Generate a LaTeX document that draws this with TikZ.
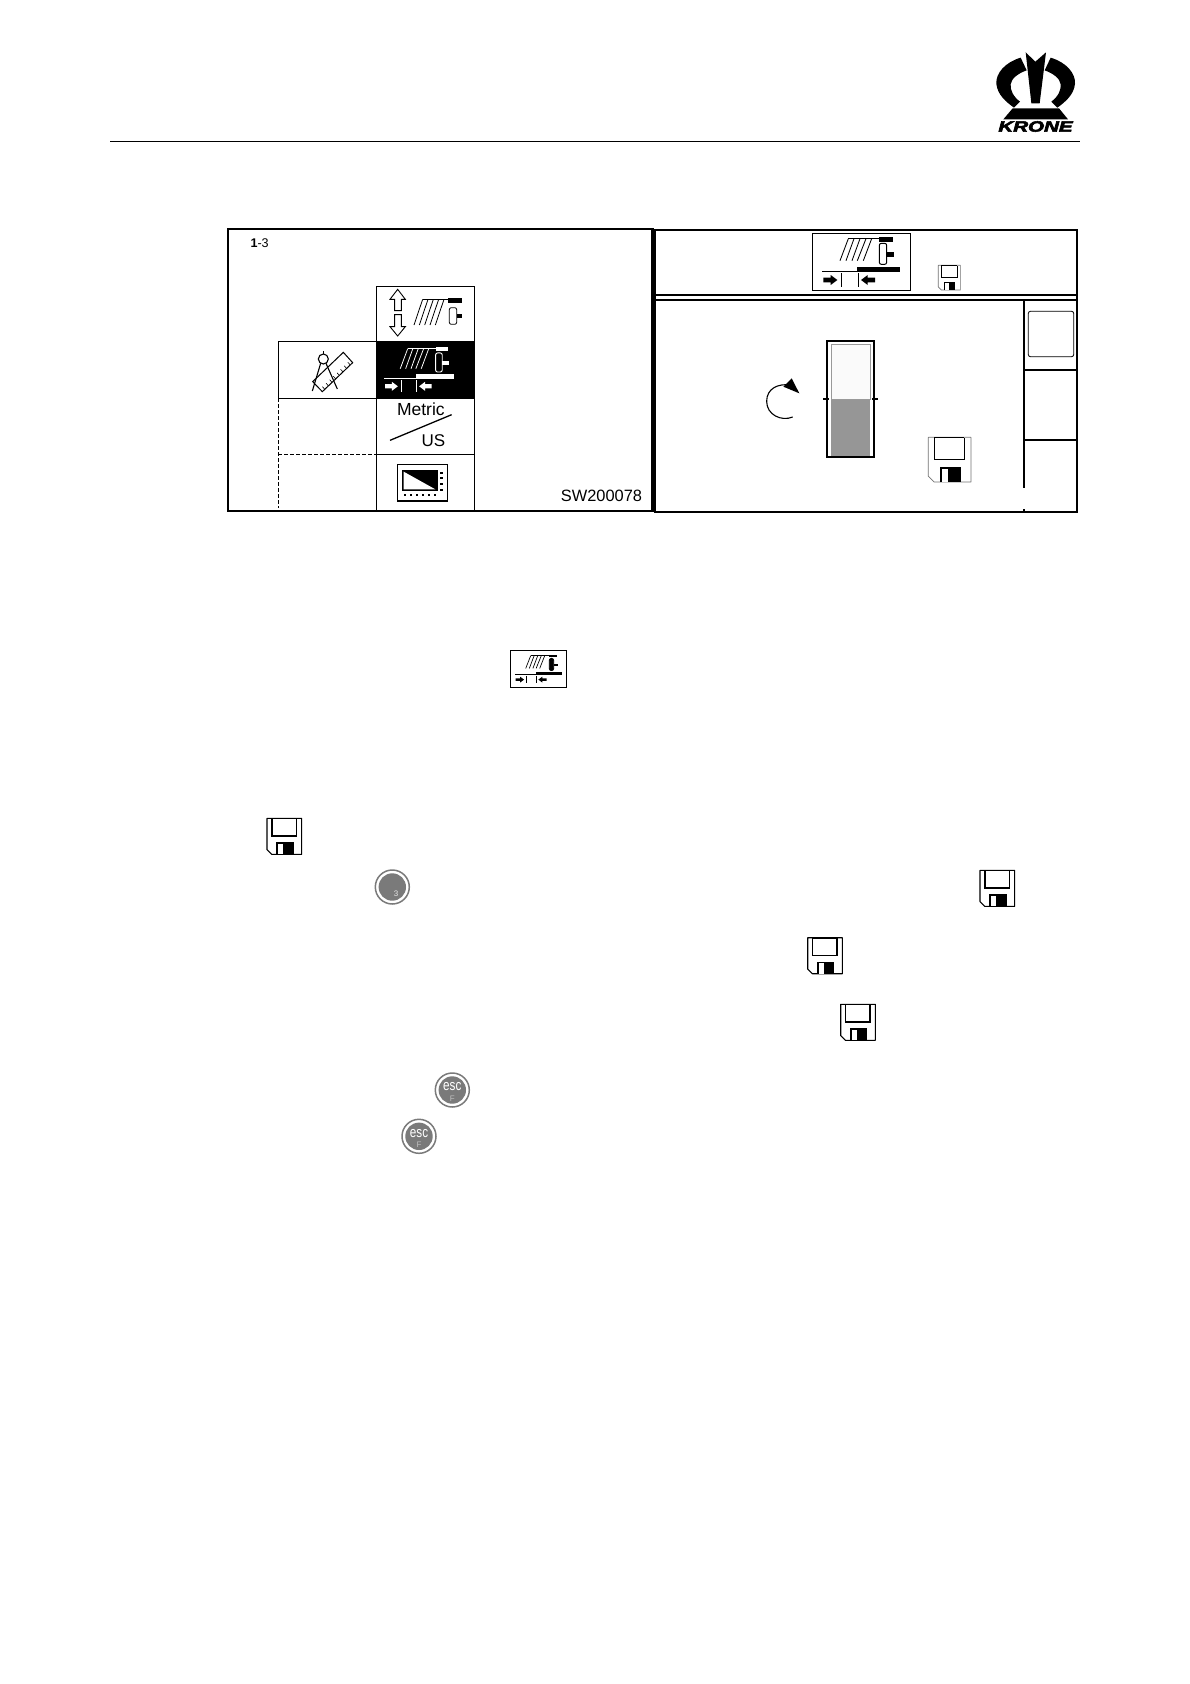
\documentclass[tikz,border=0pt]{standalone}
\usepackage{fontspec}
\usepackage{graphicx}
\usetikzlibrary{calc}
\setmainfont{Liberation Sans}
\newfontfamily\kronefont[BoldItalicFeatures={FakeBold=3.5}]{Liberation Sans}
\definecolor{panelgrey}{HTML}{969696}
\definecolor{btn}{HTML}{7A7A7A}
\tikzset{
  zoomone/.style={shift={(200,210)},scale=1/3},
  zoomtwo/.style={shift={(650,210)},scale=1/3},
  frameline/.style={draw=black,line width=1.9pt},
  gridline/.style={draw=black,line width=1.1pt},
  dashline/.style={draw=black,line width=0.9pt,dash pattern=on 3.5pt off 2.5pt},
  txt/.style={inner sep=0pt,outer sep=0pt,text=black},
}
% icon: #1 X, #2 Y, #3 x scale, #4 y scale, #5 colour, #6 roller fill, #7 thin line width
\newcommand{\sharpicon}[7]{%
\begin{scope}[shift={(#1,#2)},xscale=#3,yscale=#4]
  \draw[#5,line width=#7] (108,16) -- (203,16);
  \fill[#5] (201,12) rectangle (241,25);
  \foreach \a/\b in {108/83,125/101,143/119,161/135,178/153}
    \draw[#5,line width=#7*0.85] (\a,16) -- (\b,82);
  \draw[#5,fill=#6,line width=#7,rounded corners=2pt] (201,30) rectangle (223,93);
  \fill[#5] (223,57) rectangle (245,70);
  \fill[#5] (135,100) rectangle (263,112);
  \draw[#5,line width=#7] (29,115) -- (263,115);
  \fill[#5] (33,133) -- (55,133) -- (55,125) -- (75,140) -- (55,155) -- (55,147) -- (33,147) -- cycle;
  \fill[#5] (188,133) -- (166,133) -- (166,125) -- (146,140) -- (166,155) -- (166,147) -- (188,147) -- cycle;
  \draw[#5,line width=#7] (86,120) -- (86,160);
  \draw[#5,line width=#7] (138,120) -- (138,160);
\end{scope}}
% floppy: #1 X, #2 Y, #3 width px, #4 height px, #5 outline colour, #6 outline width
\newcommand{\floppy}[6]{%
\begin{scope}[shift={(#1,#2)},xscale=#3/105,yscale=#4/108]
  \draw[#5,line width=#6,fill=white,line join=round] (0,0) -- (104,0) -- (104,108) -- (14,108) -- (0,94) -- cycle;
  \draw[black,line width=#6] (15,1) -- (15,53) -- (88,53) -- (88,1);
  \draw[black,line width=#6*0.8] (15,1) -- (88,1);
  \fill[black] (28,72) rectangle (80,108);
  \fill[white] (33,77) rectangle (48,108);
\end{scope}}
\newcommand{\escbutton}[3]{%
  \draw[btn,line width=1.5pt,fill=white] (#1,#2) circle (17);
  \fill[btn] (#1,#2) circle (13.7);
  \node[txt,text=white,font=\fontsize{15}{15}\selectfont] (#3a) at (#1,#2-3) {\scalebox{0.78}[1]{esc}};
  \node[txt,text=white!75!black,font=\fontsize{8}{8}\selectfont] (#3b) at (#1,#2+8.5) {F};}
\begin{document}
\begin{tikzpicture}[x=1pt,y=-1pt]
\useasboundingbox (0,0) rectangle (1190,1684);
\fill[white] (0,0) rectangle (1190,1684);

% logo
\begin{scope}[shift={(990,45)},scale=1/3]
  \fill (107,22) -- (136,50) -- (168,22) -- (149,175) -- (124,175) -- cycle;
  \fill (92,38) .. controls (45,52) and (17,85) .. (19,116) .. controls (22,150) and (50,172) .. (72,188)
     -- (90,170) .. controls (70,155) and (60,135) .. (62,118) .. controls (64,100) and (85,85) .. (110,76) -- cycle;
  \fill (182,38) .. controls (229,52) and (257,85) .. (255,116) .. controls (252,150) and (224,172) .. (202,188)
     -- (184,170) .. controls (204,155) and (214,135) .. (212,118) .. controls (210,100) and (189,85) .. (164,76) -- cycle;
  \fill (68,190) -- (207,190) -- (234,223) -- (40,223) -- cycle;
\end{scope}
\node[txt,font=\kronefont\fontsize{15}{15}\selectfont\bfseries\itshape] (kronetext) at (1035.5,126.5) {\scalebox{1.37}[1]{KRONE}};
\coordinate (rulea) at (110,141);
\coordinate (ruleb) at (1080,141);
\draw[black,line width=0.9pt] (rulea) -- (ruleb);

% left panel
\begin{scope}[zoomone]
  \draw[frameline] (83,57) rectangle (1358,904);
  \draw[gridline] (529,229) -- (823,229) -- (823,904);
  \draw[gridline] (529,229) -- (529,904);
  \draw[gridline] (235,394) -- (823,394);
  \draw[gridline] (235,565) -- (823,565);
  \draw[gridline] (235,394) -- (235,565);
  \draw[gridline] (529,733) -- (823,733);
  \draw[dashline] (235,565) -- (235,895);
  \draw[dashline] (235,733) -- (529,733);
  % up/down arrows
  \draw[black,line width=0.9pt,line join=miter] (584,302) -- (584,268) -- (570,268) -- (593,238) -- (616,268) -- (604,268) -- (604,302) -- cycle;
  \draw[black,line width=0.9pt,line join=miter] (584,314) -- (584,350) -- (570,350) -- (593,378) -- (616,350) -- (604,350) -- (604,314) -- cycle;
  % hatch icon
  \draw[black,line width=1.2pt] (668,268) -- (745,268);
  \fill (745,264) rectangle (786,278);
  \foreach \a/\b in {668/642,684/658,700/674,716/690,732/706}
    \draw[black,line width=0.8pt] (\a,268) -- (\b,345);
  \draw[black,line width=0.8pt,rounded corners=2pt] (748,293) rectangle (770,343);
  \fill (770,312) rectangle (786,323);
  % selected entry
  \fill[black] (529,394) rectangle (823,565);
  \sharpicon{529-3}{394+7.5}{0.9}{0.91}{white}{black}{0.9pt}
  % compass and ruler
  \draw[black,line width=1pt,line join=miter] (338,515) -- (430,427) -- (458,458) -- (367,545) -- cycle;
  \foreach \t in {0.08,0.2,0.32,0.44,0.56,0.68,0.8,0.92}
    \draw[black,line width=0.6pt] ($(367,545)!\t!(458,458)$) -- ++(-7,-8);
  \draw[black,line width=1.1pt,fill=white] (370,447) circle (15);
  \draw[black,line width=1.1pt] (370,432) -- (370,423);
  \draw[black,line width=1.1pt] (362,460) -- (337,543);
  \draw[black,line width=1.1pt] (378,460) -- (412,537);
  % screen icon
  \draw[black,line width=1.3pt] (592,764) rectangle (743,873);
  \fill (607,780) rectangle (715,842);
  \fill[white] (611,785) -- (611,838) -- (706,838) -- cycle;
  \foreach \yy in {785,802,819,836} \fill (720,\yy) rectangle (728,\yy+6);
  \foreach \xx in {612,630,648,666,684,702} \fill (\xx,852) rectangle (\xx+7,858);
  % metric / US
  \draw[black,line width=1.3pt] (570,691) -- (755,614);
\end{scope}
\node[txt,font=\fontsize{12.6}{12.6}\selectfont,anchor=west] (figno) at (250.5,242.8) {\textbf{1}-3};
\node[txt,font=\fontsize{17.5}{17.5}\selectfont,anchor=base west] (metric) at (397,415.5) {Metric};
\node[txt,font=\fontsize{17}{17}\selectfont,anchor=base west] (us) at (421.5,446) {US};
\node[txt,font=\fontsize{16.4}{16.4}\selectfont,anchor=base east] (swno) at (642,501.7) {SW200078};

% divider between panels
\fill[black] (651.3,229) rectangle (654.8,512);

% right panel
\begin{scope}[zoomtwo]
  \draw[frameline] (16,60) rectangle (1281,905);
  \draw[frameline] (16,255) -- (1281,255);
  \draw[frameline] (16,269) -- (1281,269);
  \draw[frameline] (1122,269) -- (1122,835);
  \draw[frameline] (1122,897) -- (1122,905);
  \draw[frameline] (1122,480) -- (1281,480);
  \draw[frameline] (1122,690) -- (1281,690);
  \draw[black,line width=0.8pt,rounded corners=2pt] (1135,304) rectangle (1271,440);
  \draw[black,line width=0.9pt] (487,70) rectangle (781,241);
  \sharpicon{487}{70}{1}{1}{black}{white}{1pt}
  % bar gauge
  \fill[panelgrey] (543,567) rectangle (661,738);
  \draw[black!40,line width=0.8pt,fill=black!2] (545,404) rectangle (660,567);
  \draw[black,line width=1.9pt] (530,392) rectangle (673,742);
  \draw[black,line width=1.2pt] (519,567) -- (537,567);
  \draw[black,line width=1.2pt] (667,567) -- (684,567);
  % rotation arrow
  \draw[black,line width=1.1pt] (428,621) .. controls (395,635) and (350,615) .. (350,574) .. controls (350,535) and (385,520) .. (420,525);
  \fill (425,505) -- (448,550) -- (400,530) -- cycle;
\end{scope}
\floppy{938.3}{265.3}{22.3}{24.7}{black!55}{0.7pt}
\floppy{928.3}{437.3}{43}{44.7}{black!55}{0.7pt}

% page icons
\draw[black,line width=1.1pt] (510.3,650.3) rectangle (566.7,687.7);
\sharpicon{510.3-1.2}{650.3+2.3}{0.2}{0.193}{black}{black}{0.8pt}
\floppy{267}{818.3}{35}{36}{black}{1.1pt}
\floppy{980}{870.3}{35}{36}{black}{1.1pt}
\floppy{807.7}{937.7}{35}{36}{black}{1.1pt}
\floppy{840.7}{1004.3}{35}{36}{black}{1.1pt}

% buttons
\draw[btn,line width=1.5pt,fill=white] (392.3,887) circle (17);
\fill[btn] (392.3,887) circle (13.7);
\node[txt,text=white!90!black,font=\fontsize{8}{8}\selectfont] (three) at (396,894) {3};
\escbutton{452.3}{1090}{esca}
\escbutton{419}{1136.3}{escb}
\end{tikzpicture}
\end{document}
